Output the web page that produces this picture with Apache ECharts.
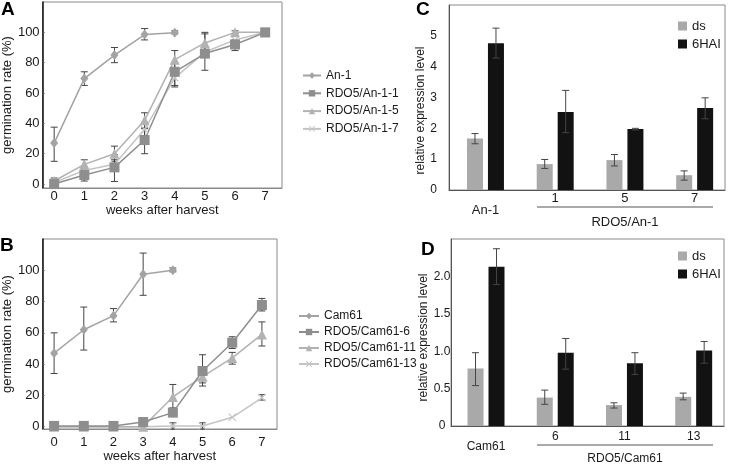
<!DOCTYPE html>
<html><head><meta charset="utf-8">
<script src="https://cdn.jsdelivr.net/npm/echarts@6/dist/echarts.min.js"></script>
<style>html,body{margin:0;padding:0;background:#fff}#c{width:730px;height:465px}</style>
</head><body><div id="c"></div>
<script>
// ---------- shared ----------
const weeks = [0, 1, 2, 3, 4, 5, 6, 7];
const germTicks = [0, 20, 40, 60, 80, 100];

// ---------- Panel A ----------
const namesA = ['An-1', 'RDO5/An-1-1', 'RDO5/An-1-5', 'RDO5/An-1-7'];
const an1     = [27, 69.5, 85, 98.5, 99.8, null, null, null];
const an1Lo   = [15, 65, 80, 95, 99, null, null, null];
const an1Hi   = [37.5, 74, 90, 102.5, 101, null, null, null];
const rdoA1   = [0, 6, 11, 29, 74, 86, 92, 100];
const rdoA1Lo = [-1.5, 2, 1.7, 20, 64, null, 88, null];
const rdoA1Hi = [1.5, 10, 19.5, 37, 80, null, 95, null];
const rdoA5   = [2, 13, 20, 42, 82, 93, 100, 100];
const rdoA5Lo = [0, 10, 15, 36.5, 76, 86, 99, null];
const rdoA5Hi = [4, 16, 25, 47, 88, 100, 101, null];
const rdoA7   = [1, 9, 13, 36, 70, 87, 95, 100];
const rdoA7Lo = [null, 7, 10, 32, 65, 75, null, null];
const rdoA7Hi = [null, 11, 16, 40, 75, 99, null, null];

// ---------- Panel B ----------
const namesB = ['Cam61', 'RDO5/Cam61-6', 'RDO5/Cam61-11', 'RDO5/Cam61-13'];
const cam61    = [47, 62, 71, 97.5, 100, null, null, null];
const cam61Lo  = [34, 49, 67, 84, 99, null, null, null];
const cam61Hi  = [60, 76.5, 75.5, 111, 101.5, null, null, null];
const rdoB6    = [0.5, 0.5, 0.5, 3, 9, 35.6, 53.7, 77.8];
const rdoB6Lo  = [null, null, null, null, null, 26, 50, 74];
const rdoB6Hi  = [null, null, null, null, null, 46, 57.5, 82];
const rdoB11   = [0, 0, 0, 0, 19, 32, 44, 59];
const rdoB11Lo = [null, null, null, null, 12, 28, 40, 51.6];
const rdoB11Hi = [null, null, null, null, 27, 36, 47.5, 67];
const rdoB13   = [0, 0, 0, 0, 0.5, 0.5, 6, 18.5];
const rdoB13Lo = [null, null, null, null, -1.5, -1.5, null, 17];
const rdoB13Hi = [null, null, null, null, 2.5, 2.5, null, 20.5];

// ---------- Panel C ----------
const barNames = ['ds', '6HAI'];
const catC   = ['An-1', '1', '5', '7'];
const groupC = 'RDO5/An-1';
const dsC    = [1.67, 0.84, 0.97, 0.48];
const dsCLo  = [1.5, 0.70, 0.78, 0.32];
const dsCHi  = [1.83, 0.99, 1.15, 0.62];
const haiC   = [4.76, 2.53, 1.98, 2.66];
const haiCLo = [4.28, 1.86, 1.95, 2.31];
const haiCHi = [5.25, 3.23, 2.0, 2.99];
const ticksC = [0, 1, 2, 3, 4, 5];

// ---------- Panel D ----------
const catD   = ['Cam61', '6', '11', '13'];
const groupD = 'RDO5/Cam61';
const dsD    = [0.77, 0.38, 0.28, 0.39];
const dsDLo  = [0.54, 0.29, 0.24, 0.35];
const dsDHi  = [0.98, 0.48, 0.31, 0.44];
const haiD   = [2.13, 0.98, 0.84, 1.01];
const haiDLo = [1.89, 0.76, 0.69, 0.84];
const haiDHi = [2.37, 1.17, 0.98, 1.13];
const ticksD = [0, 0.5, 1, 1.5, 2];

// ---------- rendering ----------
const FONT = 'Liberation Sans, Arial, sans-serif';
const ERR = '#454545';
const barPos = [0, 1, 2, 3];
const xSym = 'path://M0,1L1,0L5,4L9,0L10,1L6,5L10,9L9,10L5,6L1,10L0,9L4,5Z';

function makeErr(off) {
  return function (params, api) {
    const x = api.value(0), lo = api.value(1), hi = api.value(2);
    const p1 = api.coord([x, hi]), p2 = api.coord([x, lo]);
    const cx = p1[0] + off, w = 3.5;
    const st = { stroke: ERR, lineWidth: 1 };
    return { type: 'group', children: [
      { type: 'line', shape: { x1: cx, y1: p1[1], x2: cx, y2: p2[1] }, style: st },
      { type: 'line', shape: { x1: cx - w, y1: p1[1], x2: cx + w, y2: p1[1] }, style: st },
      { type: 'line', shape: { x1: cx - w, y1: p2[1], x2: cx + w, y2: p2[1] }, style: st }
    ]};
  };
}
function errSeries(xs, lo, hi, gi, off) {
  return {
    type: 'custom', xAxisIndex: gi, yAxisIndex: gi, silent: true, z: 1,
    renderItem: makeErr(off || 0), encode: { x: 0, y: [1, 2] },
    data: xs.map((x, i) => lo[i] == null ? null : [x, lo[i], hi[i]]).filter(Boolean)
  };
}
function lineSeries(name, vals, gi, color, symbol, size) {
  return {
    type: 'line', name, xAxisIndex: gi, yAxisIndex: gi, z: 3,
    data: weeks.map((w, i) => vals[i] == null ? null : [w, vals[i]]).filter(Boolean),
    symbol, symbolSize: size, showSymbol: true,
    itemStyle: { color }, lineStyle: { color, width: 1.5 }
  };
}
function barSeries(name, vals, gi, color) {
  return {
    type: 'bar', name, xAxisIndex: gi, yAxisIndex: gi, z: 2,
    barWidth: 16, barGap: '31%',
    data: barPos.map((x, i) => [x, vals[i]]),
    itemStyle: { color }
  };
}

const colA = ['#a3a3a3', '#8e8e8e', '#b2b2b2', '#c4c4c4'];
const symA = ['diamond', 'rect', 'triangle', xSym];
const sizeA = [[8, 10], 10, 10, 8];

const grids = [
  { left: 40, top: 2, width: 242, height: 186 },
  { left: 39, top: 239, width: 238, height: 190 },
  { left: 449, top: 5, width: 276, height: 185 },
  { left: 451, top: 239, width: 273, height: 187 }
].map(g => Object.assign({ show: true, borderColor: '#8a8a8a', borderWidth: 1, containLabel: false }, g));

const txt = { color: '#1a1a1a', fontFamily: FONT };

function weekAxis(gi, min, max, margin, gap) {
  return {
    type: 'value', gridIndex: gi, min, max,
    name: 'weeks after harvest', nameLocation: 'middle', nameGap: gap,
    nameTextStyle: Object.assign({ fontSize: 13 }, txt),
    axisLine: { show: true, onZero: false, lineStyle: { color: '#8a8a8a', width: 1 } },
    axisTick: { show: false }, splitLine: { show: false },
    axisLabel: Object.assign({ fontSize: 13, margin, customValues: weeks }, txt)
  };
}
function germAxis(gi, min, gap) {
  return {
    type: 'value', gridIndex: gi, min, max: 120,
    name: 'germination rate (%)', nameLocation: 'middle', nameGap: gap,
    nameTextStyle: Object.assign({ fontSize: 13 }, txt),
    axisLine: { show: true, onZero: false, lineStyle: { color: '#111', width: 1.5 } },
    axisTick: { show: true, inside: true, length: 2, customValues: germTicks, lineStyle: { color: '#555' } },
    splitLine: { show: false },
    axisLabel: Object.assign({ fontSize: 13, margin: 3, customValues: germTicks }, txt)
  };
}
function catAxis(gi, min, max, cats, fs, margin, lh) {
  return {
    type: 'value', gridIndex: gi, min, max,
    axisLine: { show: true, onZero: false, lineStyle: { color: '#555', width: 1 } },
    axisTick: { show: false }, splitLine: { show: false },
    axisLabel: Object.assign({
      fontSize: fs, margin, lineHeight: lh, customValues: barPos,
      formatter: v => { const i = Math.round(v); return i === 0 ? '\n' + cats[0] : cats[i]; }
    }, txt)
  };
}
function exprAxis(gi, max, ticks, margin, align, gap, pad, fmt) {
  return {
    type: 'value', gridIndex: gi, min: 0, max,
    name: 'relative expression level', nameLocation: 'middle', nameGap: gap,
    nameTextStyle: Object.assign({ fontSize: 12, padding: pad }, txt),
    axisLine: { show: true, onZero: false, lineStyle: { color: '#555', width: 1 } },
    axisTick: { show: false }, splitLine: { show: false },
    axisLabel: Object.assign({ fontSize: 12, margin, align, customValues: ticks, formatter: fmt }, txt)
  };
}

const series = [
  // A
  errSeries(weeks, an1Lo, an1Hi, 0), errSeries(weeks, rdoA1Lo, rdoA1Hi, 0),
  errSeries(weeks, rdoA5Lo, rdoA5Hi, 0), errSeries(weeks, rdoA7Lo, rdoA7Hi, 0),
  lineSeries(namesA[3], rdoA7, 0, colA[3], symA[3], sizeA[3]),
  lineSeries(namesA[2], rdoA5, 0, colA[2], symA[2], sizeA[2]),
  lineSeries(namesA[1], rdoA1, 0, colA[1], symA[1], sizeA[1]),
  lineSeries(namesA[0], an1, 0, colA[0], symA[0], sizeA[0]),
  // B
  errSeries(weeks, cam61Lo, cam61Hi, 1), errSeries(weeks, rdoB6Lo, rdoB6Hi, 1),
  errSeries(weeks, rdoB11Lo, rdoB11Hi, 1), errSeries(weeks, rdoB13Lo, rdoB13Hi, 1),
  lineSeries(namesB[3], rdoB13, 1, colA[3], symA[3], sizeA[3]),
  lineSeries(namesB[2], rdoB11, 1, colA[2], symA[2], sizeA[2]),
  lineSeries(namesB[1], rdoB6, 1, colA[1], symA[1], sizeA[1]),
  lineSeries(namesB[0], cam61, 1, colA[0], symA[0], sizeA[0]),
  // C
  barSeries(barNames[0], dsC, 2, '#a9a9a9'), barSeries(barNames[1], haiC, 2, '#121212'),
  errSeries(barPos, dsCLo, dsCHi, 2, -10.5), errSeries(barPos, haiCLo, haiCHi, 2, 10.5),
  // D
  barSeries(barNames[0], dsD, 3, '#a9a9a9'), barSeries(barNames[1], haiD, 3, '#121212'),
  errSeries(barPos, dsDLo, dsDHi, 3, -10.5), errSeries(barPos, haiDLo, haiDHi, 3, 10.5)
];
series.forEach(s => { if (s.type === 'custom') s.z = s.xAxisIndex >= 2 ? 4 : 1; });

function lineLegend(names, left, top, gap, w, tg) {
  return {
    data: names, orient: 'vertical', left, top, itemGap: gap, itemWidth: w, itemHeight: 8,
    itemTextGap: tg, selectedMode: false,
    textStyle: Object.assign({ fontSize: 12 }, txt)
  };
}
function barLegend(top) {
  return {
    data: barNames, orient: 'vertical', left: 673, top, itemGap: 5, itemWidth: 9, itemHeight: 9,
    itemTextGap: 5, selectedMode: false, icon: 'rect',
    textStyle: Object.assign({ fontSize: 13 }, txt)
  };
}
function letter(t, x, y) {
  return { type: 'text', left: x, top: y, style: { text: t, font: 'bold 19px ' + FONT, fill: '#000' } };
}

const option = {
  animation: false,
  backgroundColor: '#fff',
  grid: grids,
  xAxis: [
    weekAxis(0, -0.384, 7.558, 2, 15),
    weekAxis(1, -0.388, 7.508, 7, 17),
    catAxis(2, -0.523, 3.435, catC, 13, 3, 11.5),
    catAxis(3, -0.506, 3.438, catD, 12, 6, 10)
  ],
  yAxis: [
    germAxis(0, -2.6, 24),
    germAxis(1, -1.47, 23.5),
    exprAxis(2, 6, ticksC, 12, 'right', 19, [0, 26, 0, 0], v => String(v)),
    exprAxis(3, 2.5, ticksD, 9, 'center', 17, [0, 10, 0, 0], v => v === 0 ? '0' : v.toFixed(1))
  ],
  legend: [
    lineLegend(namesA, 297, 64.5, 5.8, 18, 6),
    lineLegend(namesB, 293, 305, 4, 20, 3),
    barLegend(14.5),
    barLegend(244.5)
  ],
  graphic: [
    letter('A', 1, 0), letter('B', 0, 236), letter('C', 416, 0), letter('D', 421, 240),
    { type: 'line', shape: { x1: 537, y1: 207, x2: 713, y2: 207 }, style: { stroke: '#555', lineWidth: 1 } },
    { type: 'text', x: 625, y: 222.5, style: { text: groupC, font: '13px ' + FONT, fill: '#1a1a1a', align: 'center', verticalAlign: 'middle' } },
    { type: 'line', shape: { x1: 537, y1: 445, x2: 713, y2: 445 }, style: { stroke: '#555', lineWidth: 1 } },
    { type: 'text', x: 625, y: 459, style: { text: groupD, font: '12px ' + FONT, fill: '#1a1a1a', align: 'center', verticalAlign: 'middle' } }
  ],
  series
};

const chart = echarts.init(document.getElementById('c'), null, { renderer: 'canvas' });
chart.setOption(option);
</script>
</body></html>
